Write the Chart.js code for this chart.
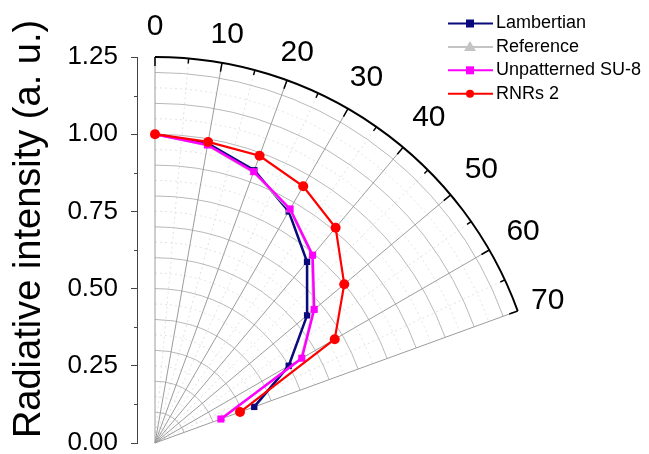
<!DOCTYPE html>
<html>
<head>
<meta charset="utf-8">
<title>Radiative intensity polar plot</title>
<script src="https://cdn.jsdelivr.net/npm/chart.js@4.4.0/dist/chart.umd.min.js"></script>
<style>
    html, body { margin: 0; padding: 0; background: #ffffff; }
    #wrap { width: 649px; height: 454px; }
</style>
</head>
<body>
<div id="wrap"><canvas id="polarChart" width="649" height="454"></canvas></div>
<script>
/* ==========================================================================
   資料 (polar angle in degrees, radiative intensity in a. u.)
   ========================================================================== */
const angles = [0, 10, 20, 30, 40, 50, 60, 70];
const lambertian = [1.00, 0.985, 0.94, 0.866, 0.766, 0.643, 0.50, 0.342];
const reference = [1.00, 0.978, 0.932, 0.872, 0.790, 0.668, 0.545, 0.230];
const unpatternedSU8 = [1.00, 0.98, 0.935, 0.875, 0.794, 0.673, 0.549, 0.227];
const rnrs2 = [1.00, 0.99, 0.99, 0.96, 0.91, 0.80, 0.672, 0.293];

const radialTicks = [0, 0.25, 0.50, 0.75, 1.00, 1.25];
const angleTicks = [0, 10, 20, 30, 40, 50, 60, 70];
const seriesNames = ['Lambertian', 'Reference', 'Unpatterned SU-8', 'RNRs 2'];

/* ==========================================================================
   版面常數
   ========================================================================== */
const FONT = '"Liberation Sans", Arial, sans-serif';
const R_MAX = 1.25;
const ANGLE_MAX = 70;
const AXIS_LEFT = 137;     // 左側 y 軸線位置
const ORIGIN_X = 155;      // 極座標中心
const AREA_TOP = 57;
const AREA_BOTTOM = 443;
const AREA_RIGHT = 640;
const PX_PER_UNIT = (AREA_BOTTOM - AREA_TOP) / R_MAX;
// 角度標籤離外圈的距離 (px)
const LABEL_GAP = [31, 30, 30, 37, 40, 40, 39, 32];

function toRad(deg) {
    return deg * Math.PI / 180;
}

// (角度, 強度) -> 直角座標
function toPoints(values) {
    return angles.map((a, i) => ({
        x: values[i] * Math.sin(toRad(a)),
        y: values[i] * Math.cos(toRad(a))
    }));
}

const seriesStyles = [
    { color: '#0a0a7d', point: 'rect', radius: 4.5, width: 2.5 },
    { color: '#c4c4c4', point: 'triangle', radius: 5, width: 2 },
    { color: '#ff00ff', point: 'rect', radius: 5, width: 2.5 },
    { color: '#ff0000', point: 'circle', radius: 5, width: 2.2 }
];
const seriesValues = [lambertian, reference, unpatternedSU8, rnrs2];

/* ==========================================================================
   極座標網格 + 標籤 plugin
   ========================================================================== */
const polarGrid = {
    id: 'polarGrid',
    beforeDatasetsDraw(chart) {
        const { ctx, scales: { x, y } } = chart;
        const cx = x.getPixelForValue(0);
        const cy = y.getPixelForValue(0);
        const k = cy - y.getPixelForValue(1);
        const a0 = toRad(-90);
        const a1 = toRad(-90 + ANGLE_MAX);

        ctx.save();
        ctx.lineWidth = 1;

        // 細虛線圓弧
        ctx.strokeStyle = '#e2e2e2';
        ctx.setLineDash([2, 3]);
        for (let r = 0.05; r < R_MAX; r += 0.1) {
            ctx.beginPath();
            ctx.arc(cx, cy, r * k, a0, a1);
            ctx.stroke();
        }
        // 細虛線徑向線 (每 5°)
        for (let d = 5; d < ANGLE_MAX; d += 10) {
            ctx.beginPath();
            ctx.moveTo(cx, cy);
            ctx.lineTo(cx + R_MAX * k * Math.sin(toRad(d)), cy - R_MAX * k * Math.cos(toRad(d)));
            ctx.stroke();
        }
        ctx.setLineDash([]);

        // 主要圓弧 (每 0.1)
        ctx.strokeStyle = '#b8b8b8';
        for (let i = 1; i <= 12; i++) {
            ctx.beginPath();
            ctx.arc(cx, cy, i * 0.1 * k, a0, a1);
            ctx.stroke();
        }
        // 主要徑向線 (每 10°)
        ctx.strokeStyle = '#9c9c9c';
        angleTicks.forEach(d => {
            ctx.beginPath();
            ctx.moveTo(cx, cy);
            ctx.lineTo(cx + R_MAX * k * Math.sin(toRad(d)), cy - R_MAX * k * Math.cos(toRad(d)));
            ctx.stroke();
        });
        ctx.restore();
    },
    afterDraw(chart) {
        const { ctx, scales: { x, y } } = chart;
        const cx = x.getPixelForValue(0);
        const cy = y.getPixelForValue(0);
        const k = cy - y.getPixelForValue(1);
        const rOut = R_MAX * k;

        ctx.save();
        // 外圈
        ctx.strokeStyle = '#000000';
        ctx.lineWidth = 2;
        ctx.beginPath();
        ctx.arc(cx, cy, rOut, toRad(-90), toRad(-90 + ANGLE_MAX));
        ctx.stroke();

        // 外圈刻度 (向內)
        ctx.lineWidth = 1.5;
        for (let d = 0; d <= ANGLE_MAX; d += 5) {
            const len = d % 10 === 0 ? 9 : 5;
            const s = Math.sin(toRad(d)), c = Math.cos(toRad(d));
            ctx.beginPath();
            ctx.moveTo(cx + rOut * s, cy - rOut * c);
            ctx.lineTo(cx + (rOut - len) * s, cy - (rOut - len) * c);
            ctx.stroke();
        }

        // 角度標籤
        ctx.fillStyle = '#000000';
        ctx.font = '30px ' + FONT;
        ctx.textAlign = 'center';
        ctx.textBaseline = 'middle';
        angleTicks.forEach((d, i) => {
            const rl = rOut + LABEL_GAP[i];
            ctx.fillText(String(d), cx + rl * Math.sin(toRad(d)), cy - rl * Math.cos(toRad(d)) + 1);
        });

        // y 軸次刻度
        ctx.strokeStyle = '#444444';
        ctx.lineWidth = 1;
        for (let v = 0.125; v < R_MAX; v += 0.25) {
            const py = Math.round(y.getPixelForValue(v)) + 0.5;
            ctx.beginPath();
            ctx.moveTo(AXIS_LEFT - 3, py);
            ctx.lineTo(AXIS_LEFT, py);
            ctx.stroke();
        }

        // y 軸標題
        ctx.save();
        ctx.translate(30, 229);
        ctx.rotate(-Math.PI / 2);
        ctx.font = '38px ' + FONT;
        ctx.fillStyle = '#000000';
        ctx.textAlign = 'center';
        ctx.textBaseline = 'middle';
        ctx.fillText('Radiative intensity (a. u.)', 0, 0);
        ctx.restore();

        // 圖例
        ctx.font = '18px ' + FONT;
        ctx.textAlign = 'left';
        ctx.textBaseline = 'middle';
        seriesNames.forEach((name, i) => {
            const st = seriesStyles[i];
            const ly = 23.5 + i * 23.4;
            ctx.strokeStyle = st.color;
            ctx.lineWidth = 2;
            ctx.beginPath();
            ctx.moveTo(448, ly);
            ctx.lineTo(493, ly);
            ctx.stroke();
            ctx.fillStyle = st.color;
            const r = 4;
            ctx.beginPath();
            if (st.point === 'rect') {
                ctx.rect(470 - r, ly - r, 2 * r, 2 * r);
            } else if (st.point === 'triangle') {
                ctx.moveTo(470, ly - 6);
                ctx.lineTo(476, ly + 4);
                ctx.lineTo(464, ly + 4);
                ctx.closePath();
            } else {
                ctx.arc(470, ly, r, 0, Math.PI * 2);
            }
            ctx.fill();
            ctx.fillStyle = '#000000';
            ctx.fillText(name, 496, ly);
        });
        ctx.restore();
    }
};

/* ==========================================================================
   建立圖表
   ========================================================================== */
const datasets = seriesNames.map((name, i) => ({
    label: name,
    data: toPoints(seriesValues[i]),
    showLine: true,
    borderColor: seriesStyles[i].color,
    backgroundColor: seriesStyles[i].color,
    borderWidth: seriesStyles[i].width,
    pointStyle: seriesStyles[i].point,
    pointRadius: seriesStyles[i].radius,
    pointBorderWidth: 0,
    order: seriesNames.length - i,
    clip: false
}));

new Chart(document.getElementById('polarChart').getContext('2d'), {
    type: 'scatter',
    data: { datasets: datasets },
    options: {
        responsive: false,
        animation: false,
        devicePixelRatio: 1,
        layout: {
            padding: { top: AREA_TOP, bottom: 454 - AREA_BOTTOM, right: 649 - AREA_RIGHT, left: 0 }
        },
        plugins: {
            legend: { display: false },
            tooltip: { enabled: false }
        },
        scales: {
            x: {
                type: 'linear',
                display: false,
                min: -(ORIGIN_X - AXIS_LEFT) / PX_PER_UNIT,
                max: (AREA_RIGHT - ORIGIN_X) / PX_PER_UNIT
            },
            y: {
                type: 'linear',
                min: 0,
                max: R_MAX,
                afterFit(scale) {
                    // 固定軸寬, 不讓刻度標籤擠壓繪圖區
                    scale.width = AXIS_LEFT;
                    scale.paddingTop = 0;
                    scale.paddingBottom = 0;
                },
                afterBuildTicks(scale) {
                    scale.ticks = radialTicks.map(v => ({ value: v }));
                },
                ticks: {
                    color: '#000000',
                    padding: 13,
                    font: { family: FONT, size: 26 },
                    callback: v => Number(v).toFixed(2)
                },
                grid: {
                    drawOnChartArea: false,
                    drawTicks: true,
                    tickLength: 6,
                    tickColor: '#444444',
                    tickWidth: 1
                },
                border: { display: true, color: '#444444', width: 1 }
            }
        }
    },
    plugins: [polarGrid]
});
</script>
</body>
</html>
